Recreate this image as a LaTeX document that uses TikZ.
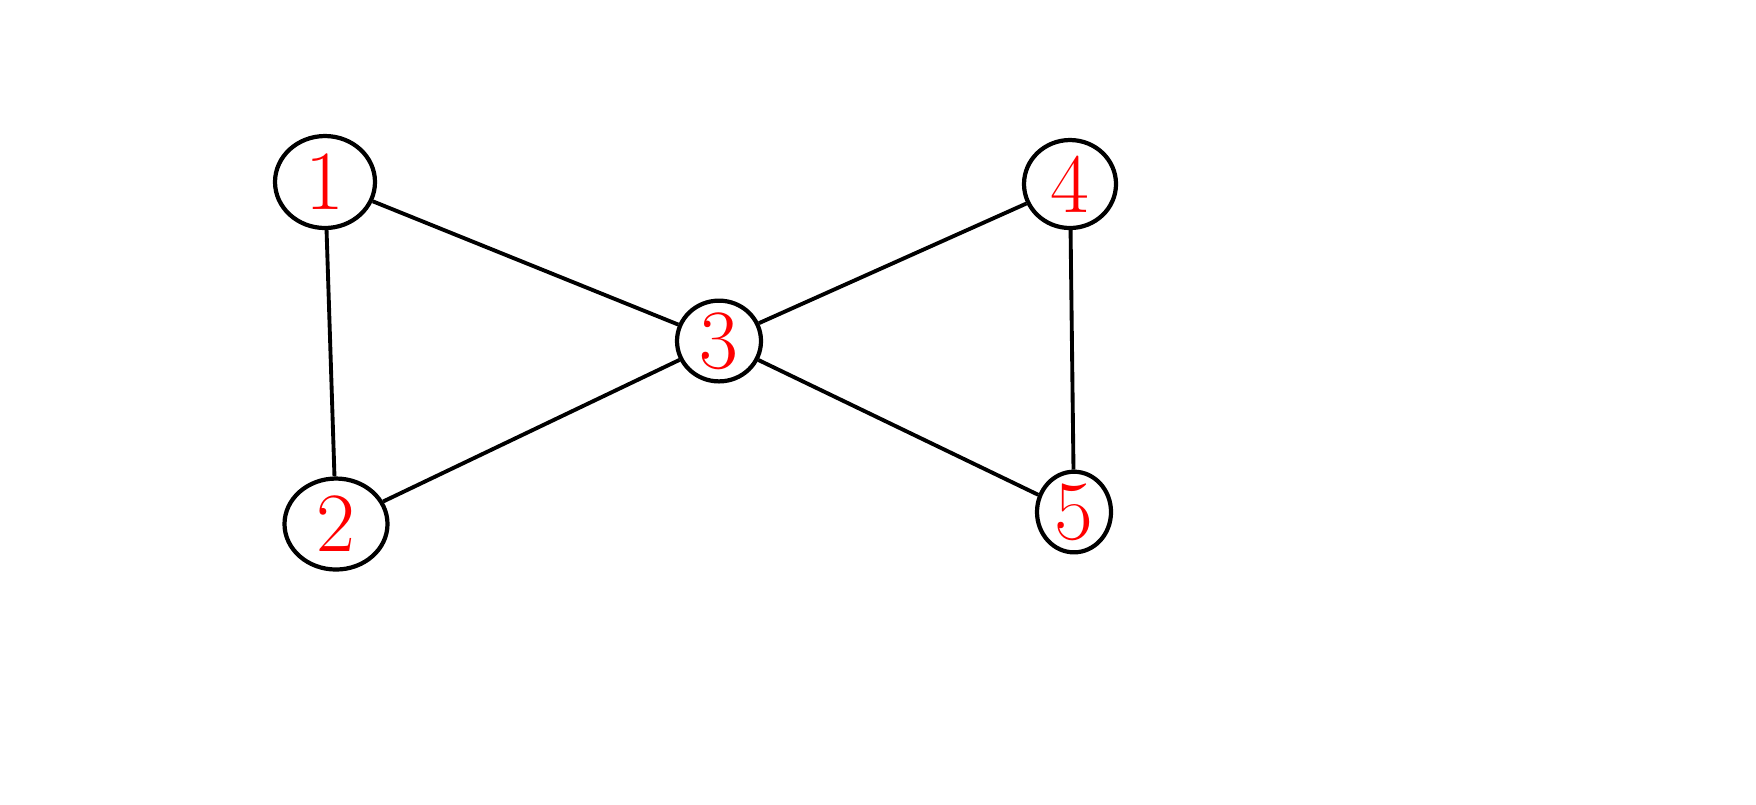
\documentclass[tikz,border=0pt]{standalone}
\usetikzlibrary{shapes.geometric}

\tikzset{
    vertex/.style={draw=black, ellipse, line width=1.2pt, inner sep=0pt,
        text=red, font=\fontsize{24}{24}\selectfont},
    edge/.style={draw=black, line width=1.1pt}
}

\begin{document}
\begin{tikzpicture}[line join=round]
    \useasboundingbox (0,0) rectangle (17.56,-8.04);

    \node[vertex, minimum width=1.00cm, minimum height=0.92cm] (v1) at (3.25,-1.82) {1};
    \node[vertex, minimum width=1.03cm, minimum height=0.91cm] (v2) at (3.36,-5.24) {2};
    \node[vertex, minimum width=0.84cm, minimum height=0.79cm] (v3) at (7.19,-3.41) {3};
    \node[vertex, minimum width=0.92cm, minimum height=0.88cm] (v4) at (10.70,-1.84) {4};
    \node[vertex, minimum width=0.74cm, minimum height=0.72cm] (v5) at (10.74,-5.12) {5};

    \draw[edge] (v1) -- (v2);
    \draw[edge] (v1) -- (v3);
    \draw[edge] (v2) -- (v3);
    \draw[edge] (v3) -- (v4);
    \draw[edge] (v3) -- (v5);
    \draw[edge] (v4) -- (v5);
\end{tikzpicture}
\end{document}
